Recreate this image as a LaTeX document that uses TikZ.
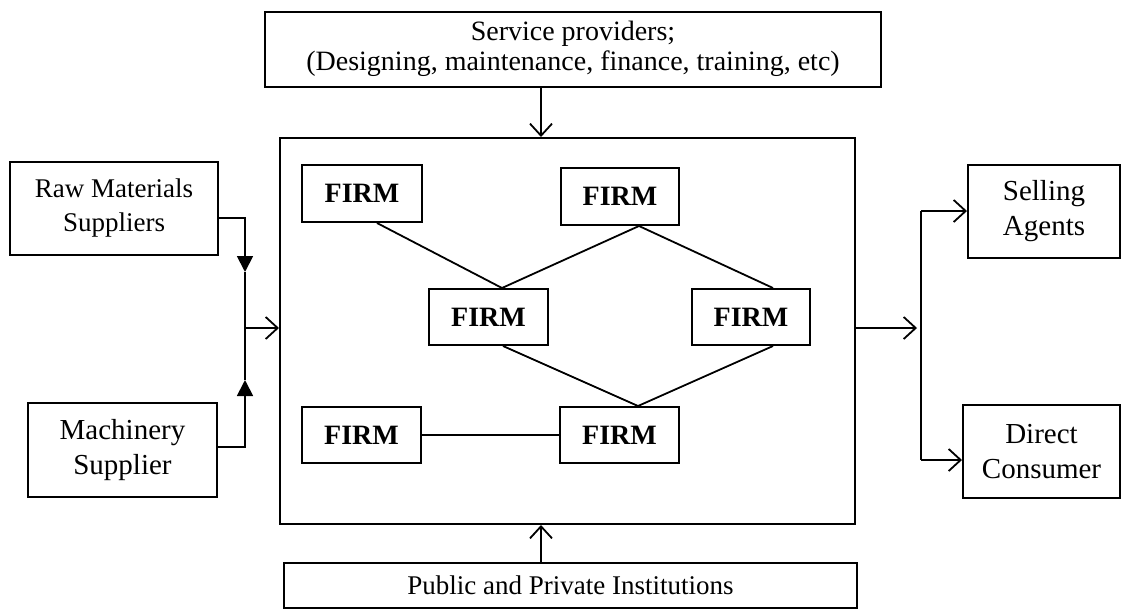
\documentclass[tikz,border=0pt]{standalone}
\usepackage{fontspec}
\setmainfont{Liberation Serif}
\usetikzlibrary{arrows.meta}
\begin{document}
\begin{tikzpicture}[x=1pt,y=-1pt,
  box/.style={draw,line width=2pt,inner sep=0pt,align=center,font=\fontsize{27}{34}\selectfont},
  firm/.style={box,minimum width=119pt,minimum height=56pt,font=\fontsize{28}{34}\selectfont\bfseries},
  link/.style={line width=1.8pt},
  open/.style={line width=1.8pt,-{Straight Barb[length=12pt,width=22pt,line width=1.8pt]}},
  tri/.style={line width=1.8pt,-{Triangle[length=16pt,width=16pt]}}]
\useasboundingbox (0,0) rectangle (1123,611);
% outer boxes
\node[box,minimum width=616pt,minimum height=75pt,font=\fontsize{28}{31}\selectfont] (svc) at (573,49) {Service providers;\\[-1pt](Designing, maintenance, finance, training, etc)};
\node[box,minimum width=575pt,minimum height=386pt] (main) at (567.5,331) {};
\node[box,minimum width=573pt,minimum height=45pt] (pub) at (570.5,585.5) {Public and Private Institutions};
\node[box,minimum width=208pt,minimum height=93pt] (raw) at (114,208.5) {Raw Materials\\Suppliers};
\node[box,minimum width=189pt,minimum height=94pt,font=\fontsize{29}{35}\selectfont] (mach) at (122.5,450) {Machinery\\Supplier};
\node[box,minimum width=152pt,minimum height=93pt,font=\fontsize{29}{35}\selectfont] (sell) at (1044,211.5) {Selling\\Agents};
\node[box,minimum width=157pt,minimum height=93pt,font=\fontsize{29}{35}\selectfont] (dir) at (1041.5,451.5) {Direct\\Consumer};
% firms
\node[firm,minimum width=120pt,minimum height=57pt] (f1) at (362,193.5) {FIRM};
\node[firm,minimum width=118pt,minimum height=57pt] (f2) at (620,196.5) {FIRM};
\node[firm] (f3) at (488.5,317) {FIRM};
\node[firm,minimum width=118pt] (f4) at (751,317) {FIRM};
\node[firm] (f5) at (361.5,435) {FIRM};
\node[firm] (f6) at (619.5,435) {FIRM};
% firm links
\draw[link] ([xshift=15pt]f1.south) -- ([xshift=13.5pt]f3.north);
\draw[link] ([xshift=19pt]f2.south) -- ([xshift=13.5pt]f3.north);
\draw[link] ([xshift=19pt]f2.south) -- ([xshift=22pt]f4.north);
\draw[link] ([xshift=14.5pt]f3.south) -- ([xshift=18.5pt]f6.north);
\draw[link] ([xshift=22pt]f4.south) -- ([xshift=18.5pt]f6.north);
\draw[link] (f5.east) -- (f6.west);
% top and bottom arrows
\draw[open] (svc.south -| 541,0) -- (main.north -| 541,0);
\draw[open] (pub.north -| 541,0) -- (main.south -| 541,0);
% left inputs
\coordinate (jl) at (245,328);
\coordinate (jt) at (245,272);
\coordinate (jb) at (245,380);
\draw[tri] ([yshift=-9.5pt]raw.east) -| (jt);
\draw[link] (jt) -- (jl);
\draw[tri] ([yshift=3pt]mach.east) -| (jb);
\draw[link] (jb) -- (jl);
\draw[open] (jl) -- (main.west |- jl);
% right outputs
\coordinate (jr) at (921,328);
\coordinate (rt) at (921,211);
\coordinate (rb) at (921,460);
\draw[open] (main.east |- jr) -- ([xshift=-4pt]jr);
\draw[link] (rt) -- (rb);
\draw[open] (rt) -- (sell.west |- rt);
\draw[open] (rb) -- (dir.west |- rb);
\end{tikzpicture}
\end{document}
